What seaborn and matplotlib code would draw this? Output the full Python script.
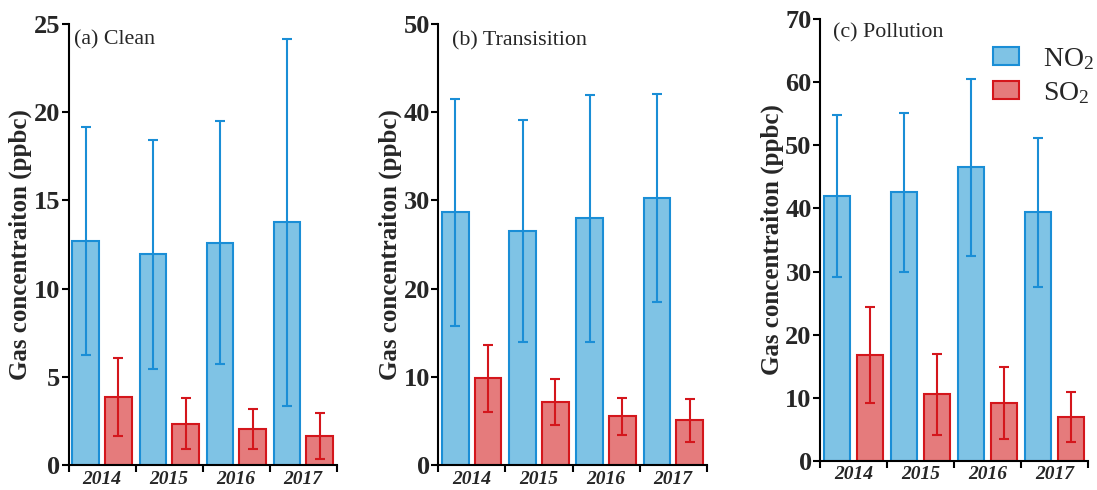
import matplotlib
matplotlib.use("Agg")
import matplotlib.pyplot as plt
import seaborn as sns
import pandas as pd
import numpy as np
from matplotlib.ticker import FixedLocator, NullFormatter

sns.set_theme(style="ticks")
plt.rcParams['font.family'] = ['Liberation Serif', 'DejaVu Serif']
plt.rcParams['mathtext.fontset'] = 'custom'
plt.rcParams['mathtext.rm'] = 'Liberation Serif'

years = ["2014", "2015", "2016", "2017"]
gases = ["NO2", "SO2"]
gas_labels = [r"$\mathregular{NO_2}$", r"$\mathregular{SO_2}$"]

panel_titles = ["(a) Clean", "(b) Transisition", "(c) Pollution"]
y_max = [25, 50, 70]
y_step = [5, 10, 10]

no2_clean = [12.7, 11.95, 12.6, 13.75]
no2_clean_sd = [6.45, 6.5, 6.9, 10.4]
so2_clean = [3.85, 2.35, 2.03, 1.65]
so2_clean_sd = [2.2, 1.45, 1.15, 1.3]

no2_trans = [28.65, 26.55, 27.95, 30.3]
no2_trans_sd = [12.85, 12.6, 14.05, 11.8]
so2_trans = [9.85, 7.15, 5.5, 5.05]
so2_trans_sd = [3.8, 2.6, 2.05, 2.45]

no2_poll = [42.0, 42.6, 46.5, 39.4]
no2_poll_sd = [12.9, 12.6, 14.1, 11.8]
so2_poll = [16.8, 10.5, 9.2, 6.9]
so2_poll_sd = [7.6, 6.4, 5.7, 3.95]

panels = [
    (no2_clean, no2_clean_sd, so2_clean, so2_clean_sd),
    (no2_trans, no2_trans_sd, so2_trans, so2_trans_sd),
    (no2_poll, no2_poll_sd, so2_poll, so2_poll_sd),
]

fill_colors = ["#7fc3e5", "#e57b7c"]
edge_colors = ["#1a8ed6", "#d4161c"]

W, H = 1097, 490
fig = plt.figure(figsize=(W / 100, H / 100), dpi=100)

# axes placement (pixels)
ax_px = [
    (68.5, 336.7, 24.0, 465.0),
    (438.3, 706.7, 24.0, 465.0),
    (820.0, 1088.3, 19.3, 460.7),
]
title_pos = [(0.02, 0.985), (0.05, 0.983), (0.047, 0.99)]

for i, (no2, no2sd, so2, so2sd) in enumerate(panels):
    l, r, t, b = ax_px[i]
    ax = fig.add_axes([l / W, (H - b) / H, (r - l) / W, (b - t) / H])
    df = pd.DataFrame({
        "year": years * 2,
        "gas": [gases[0]] * 4 + [gases[1]] * 4,
        "value": list(no2) + list(so2),
    })
    sns.barplot(data=df, x="year", y="value", hue="gas", hue_order=gases,
                palette=fill_colors, width=0.98, gap=0.2, errorbar=None,
                linewidth=1.5, saturation=1, ax=ax, legend=False)
    sds = [no2sd, so2sd]
    vals = [no2, so2]
    bar_containers = list(ax.containers)[:2]
    for k, cont in enumerate(bar_containers):
        xs = []
        for bar in cont.patches:
            bar.set_edgecolor(edge_colors[k])
            bar.set_linewidth(1.5)
            xs.append(bar.get_x() + bar.get_width() / 2)
        ax.errorbar(xs, vals[k], yerr=sds[k], fmt="none", ecolor=edge_colors[k],
                    elinewidth=1.5, capsize=3.5, capthick=1.5, zorder=3)

    ax.set_xlim(-0.5, 3.5)
    ax.set_ylim(0, y_max[i])
    ticks = np.arange(0, y_max[i] + 0.1, y_step[i])
    ax.set_yticks(ticks)
    ax.set_yticklabels([str(int(v)) for v in ticks], fontsize=19, fontweight="bold")
    ax.set_xticks(range(4))
    ax.set_xticklabels(years, fontsize=14, fontweight="bold", fontstyle="italic")
    ax.tick_params(axis="x", which="major", length=0, pad=4)
    ax.xaxis.set_minor_locator(FixedLocator([-0.5, 0.5, 1.5, 2.5, 3.5]))
    ax.xaxis.set_minor_formatter(NullFormatter())
    ax.tick_params(axis="x", which="minor", length=5, width=1.5, color="black", direction="out")
    ax.tick_params(axis="y", length=5, width=1.5, color="black", pad=1)
    for s in ["top", "right"]:
        ax.spines[s].set_visible(False)
    for s in ["left", "bottom"]:
        ax.spines[s].set_linewidth(1.5)
        ax.spines[s].set_color("black")
    ax.set_xlabel("")
    ax.set_ylabel("Gas concentraiton (ppbc)", fontsize=18, fontweight="bold")
    ax.yaxis.set_label_coords(-0.135, 0.5)
    ax.text(title_pos[i][0], title_pos[i][1], panel_titles[i], transform=ax.transAxes,
            ha="left", va="top", fontsize=15.8)

    if i == 2:
        handles = [plt.Rectangle((0, 0), 1, 1, facecolor=fill_colors[k],
                                 edgecolor=edge_colors[k], linewidth=1.5) for k in range(2)]
        ax.legend(handles, gas_labels, loc="upper left",
                  bbox_to_anchor=(993 / W, (H - 46) / H), bbox_transform=fig.transFigure,
                  frameon=False, fontsize=20, handlelength=0.95, handleheight=0.62,
                  handletextpad=0.85, labelspacing=0.3, borderpad=0, borderaxespad=0)

fig.savefig("out.png", dpi=100)
